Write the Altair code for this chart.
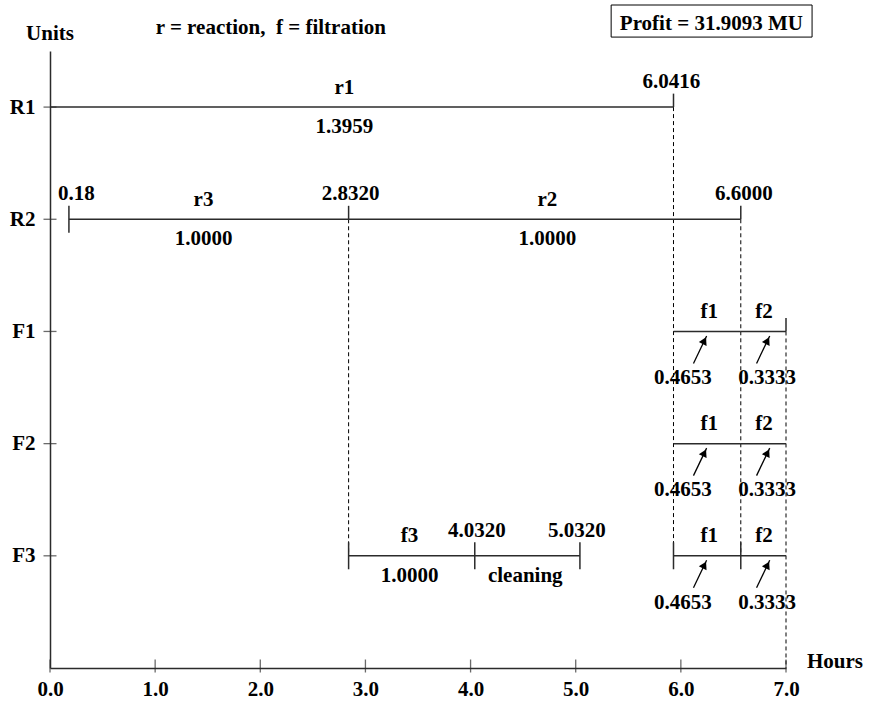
import altair as alt
import pandas as pd

FONT = "Liberation Serif"
FS = 21
INK = "#000000"
LINE = "#2b2b2b"

# ---------------- data ----------------
units = ["R1", "R2", "F1", "F2", "F3"]
hour_ticks = [0, 1, 2, 3, 4, 5, 6, 7]

task_unit  = ["R1", "R2", "R2", "F1", "F1", "F2", "F2", "F3", "F3", "F3", "F3"]
task_name  = ["r1", "r3", "r2", "f1", "f2", "f1", "f2", "f3", "", "f1", "f2"]
task_below = ["1.3959", "1.0000", "1.0000", "0.4653", "0.3333", "0.4653", "0.3333",
              "1.0000", "cleaning", "0.4653", "0.3333"]
task_start = [0.0, 0.18, 2.84, 5.93, 6.57, 5.93, 6.57, 2.84, 4.04, 5.93, 6.57]
task_end   = [5.93, 2.84, 6.57, 6.57, 7.0, 6.57, 7.0, 4.04, 5.04, 6.57, 7.0]
# where the task's texts sit along the time axis (hours)
task_label_hour = [2.8, 1.46, 4.73, 6.27, 6.79, 6.27, 6.79, 3.42, 4.52, 6.27, 6.79]

# event time labels
time_unit = ["R1", "R2", "R2", "R2", "F3", "F3"]
time_hour = [5.91, 0.25, 2.86, 6.6, 4.06, 5.01]
time_text = ["6.0416", "0.18", "2.8320", "6.6000", "4.0320", "5.0320"]

# solid boundary ticks on the unit lines
tick_unit = ["R1", "R2", "R2", "R2", "F1", "F3", "F3", "F3", "F3", "F3"]
tick_hour = [5.93, 0.18, 2.84, 6.57, 7.0, 2.84, 4.04, 5.04, 5.93, 6.57]
tick_both = [False, True, False, False, False, True, True, True, True, True]

# dashed links between units (last one down to the time axis)
link_hour = [5.93, 6.57, 2.84, 7.0]
link_from = ["R1", "R2", "R2", "F1"]
link_to   = ["F3", "F3", "F3", "axis"]

# arrows for the filtration batch sizes (hours)
arrow_tail = {"f1": 6.12, "f2": 6.72}
arrow_tip = {"f1": 6.245, "f2": 6.845}
arrow_label = {"f1": 6.02, "f2": 6.82}

legend_text = "r = reaction,\u00a0 f = filtration"
profit_text = "Profit = 31.9093 MU"

# ---------------- tables ----------------
row = {u: i + 1 for i, u in enumerate(units)}
row["axis"] = len(units) + 1

seg = pd.DataFrame(dict(unit=task_unit, name=task_name, below=task_below,
                        start=task_start, end=task_end, lx=task_label_hour))
seg["row"] = seg["unit"].map(row)

names = seg[seg["name"] != ""].copy()
names = pd.DataFrame(dict(x=names["lx"], y=names["row"] - 0.12, t=names["name"]))

is_arrow = seg["name"].isin(list(arrow_tail)) & seg["unit"].str.startswith("F")
plain = seg[~is_arrow]
below = pd.DataFrame(dict(x=plain["lx"], y=plain["row"] + 0.23, t=plain["below"]))

arr = seg[is_arrow]
arrows = pd.DataFrame(dict(
    x=arr["name"].map(arrow_tail), x2=arr["name"].map(arrow_tip),
    y=arr["row"] + 0.285, y2=arr["row"] + 0.04))
arrow_txt = pd.DataFrame(dict(x=arr["name"].map(arrow_label), y=arr["row"] + 0.47,
                              t=arr["below"]))

times = pd.DataFrame(dict(x=time_hour, y=[row[u] - 0.17 for u in time_unit], t=time_text))

ticks = pd.DataFrame(dict(x=tick_hour, r=[row[u] for u in tick_unit], both=tick_both))
links = pd.DataFrame(dict(x=link_hour, y=[row[u] for u in link_from],
                          y2=[row[u] for u in link_to]))

xt = pd.DataFrame(dict(x=hour_ticks, y=[row["axis"]] * len(hour_ticks)))
yt = pd.DataFrame(dict(x=[0] * len(units), y=[row[u] for u in units]))

# ---------------- scales / axes / helpers ----------------
XS = alt.Scale(domain=[0, 7], nice=False, zero=False)
YS = alt.Scale(domain=[0.5, 6], nice=False, zero=False, reverse=True)

label_expr = "[''," + ",".join("'%s'" % u for u in units) + "][datum.value]"

XA = alt.Axis(
    values=hour_ticks, format=".1f", title=None, grid=False, ticks=False,
    tickSize=0, domain=True, domainColor=LINE, domainWidth=1.5, labelFont=FONT,
    labelFontSize=FS, labelFontWeight="bold", labelColor=INK,
    labelPadding=27, labelBaseline="alphabetic", labelFlush=False,
    labelOverlap=False)
YA = alt.Axis(
    values=[row[u] for u in units], labelExpr=label_expr, title=None,
    grid=False, ticks=False, tickSize=0, domain=True, domainColor=LINE,
    domainWidth=1.5, labelFont=FONT, labelFontSize=FS, labelFontWeight="bold",
    labelColor=INK, labelPadding=15, labelAlign="right",
    labelBaseline="middle", labelFlush=False, labelOverlap=False)


def X(f):
    return alt.X(f, type="quantitative", scale=XS, axis=XA)


def Y(f):
    return alt.Y(f, type="quantitative", scale=YS, axis=YA)


def text_layer(df, align="center"):
    return alt.Chart(df).mark_text(
        font=FONT, fontSize=FS, fontWeight="bold", color=INK,
        align=align, baseline="alphabetic"
    ).encode(x=X("x"), y=Y("y"), text="t:N")


segments = alt.Chart(seg).mark_rule(color=LINE, strokeWidth=1.5).encode(
    x=X("start"), x2="end:Q", y=Y("row"))

tick_rules = alt.Chart(ticks).transform_calculate(
    y="datum.r - 0.12", y2="datum.both ? datum.r + 0.12 : datum.r"
).mark_rule(color=LINE, strokeWidth=1.5).encode(x=X("x"), y=Y("y"), y2="y2:Q")

link_rules = alt.Chart(links).mark_rule(
    color=INK, strokeWidth=1, strokeDash=[4, 3]
).encode(x=X("x"), y=Y("y"), y2="y2:Q")

x_axis_ticks = alt.Chart(xt).mark_tick(
    orient="vertical", size=13, thickness=1.3, color=LINE, yOffset=-2
).encode(x=X("x"), y=Y("y"))
y_axis_ticks = alt.Chart(yt).mark_tick(
    orient="horizontal", size=13, thickness=1.3, color=LINE
).encode(x=X("x"), y=Y("y"))

arrow_lines = alt.Chart(arrows).mark_rule(color=INK, strokeWidth=1.3).encode(
    x=X("x"), x2="x2:Q", y=Y("y"), y2="y2:Q")
arrow_heads = alt.Chart(arrows).transform_calculate(
    hx="datum.x2 + 0.17 * (datum.x - datum.x2)",
    hy="datum.y2 + 0.17 * (datum.y - datum.y2)",
).mark_point(shape="triangle-up", filled=True, size=75, angle=27,
             color=INK, opacity=1).encode(x=X("hx"), y=Y("hy"))

# annotations outside the plot area
units_title = text_layer(pd.DataFrame(dict(x=[0.0], y=[0.40], t=["Units"])))
hours_title = text_layer(pd.DataFrame(dict(x=[7.2], y=[6.0], t=["Hours"])), align="left")
legend = text_layer(pd.DataFrame(dict(x=[2.1], y=[0.35], t=[legend_text])))
profit_box = alt.Chart(pd.DataFrame(dict(x=[5.337], x2=[7.248], y=[0.09], y2=[0.376]))).mark_rect(
    fill="white", stroke=INK, strokeWidth=1
).encode(x=X("x"), x2="x2:Q", y=Y("y"), y2="y2:Q")
profit = text_layer(pd.DataFrame(dict(x=[6.29], y=[0.313], t=[profit_text])))

chart = alt.layer(
    link_rules, segments, tick_rules, x_axis_ticks, y_axis_ticks,
    arrow_lines, arrow_heads,
    text_layer(names), text_layer(below), text_layer(arrow_txt), text_layer(times),
    units_title, hours_title, legend, profit_box, profit,
).properties(
    width=736, height=617,
    autosize=alt.AutoSizeParams(type="none"),
    padding={"left": 50, "top": 51, "right": 84, "bottom": 34},
    background="white",
).configure_view(stroke=None)

chart.save("out.html", embed_options={"renderer": "svg", "actions": False})
